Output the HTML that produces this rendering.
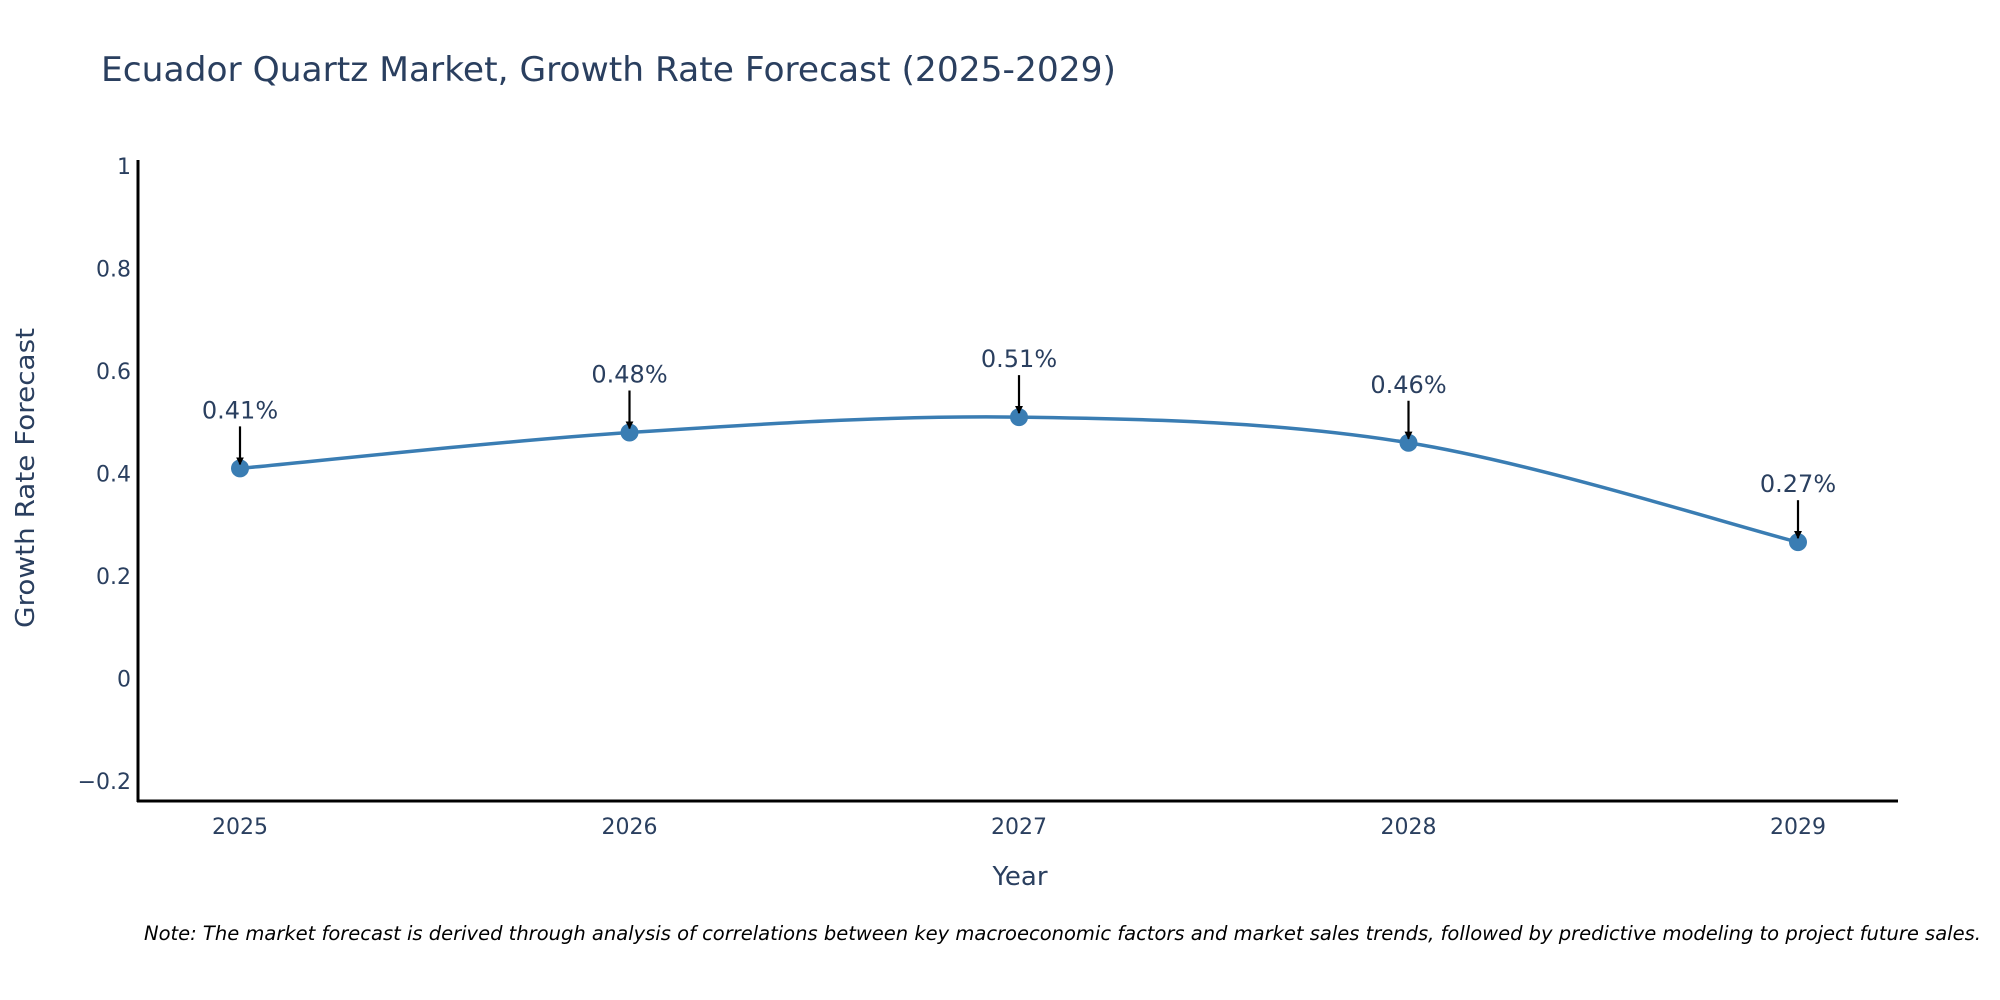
<!DOCTYPE html>
<html><head><meta charset="utf-8"><style>
html,body{margin:0;padding:0;background:#fff;width:2000px;height:1000px;overflow:hidden}
svg{display:block;font-family:"DejaVu Sans","Liberation Sans",sans-serif}
</style></head><body>
<svg id="chart" width="2000" height="1000" viewBox="0 0 2000 1000">
<defs><marker id="ah" viewBox="0 0 10 10" refX="9" refY="5" markerWidth="3.6" markerHeight="3.6" orient="auto"><path d="M0,0 L10,5 L0,10 z" fill="#000"/></marker></defs>
<text x="101" y="81" font-size="34" fill="#2a3f5f" textLength="1015" lengthAdjust="spacingAndGlyphs">Ecuador Quartz Market, Growth Rate Forecast (2025-2029)</text>
<g id="plot"></g>
<text x="1020" y="885" font-size="26" fill="#2a3f5f" text-anchor="middle">Year</text>
<text transform="translate(34,478) rotate(-90)" font-size="26" fill="#2a3f5f" text-anchor="middle" textLength="300" lengthAdjust="spacingAndGlyphs">Growth Rate Forecast</text>
<text x="144" y="940" font-size="19.5" font-style="italic" fill="#000">Note: The market forecast is derived through analysis of correlations between key macroeconomic factors and market sales trends, followed by predictive modeling to project future sales.</text>
</svg>
<script>
const years = ["2025","2026","2027","2028","2029"];
const values = [0.41, 0.48, 0.51, 0.46, 0.266];
const yTicks = [-0.2, 0, 0.2, 0.4, 0.6, 0.8, 1];
const yTickLabels = ["\u22120.2","0","0.2","0.4","0.6","0.8","1"];

const NS = "http://www.w3.org/2000/svg";
const g = document.getElementById("plot");
const X0 = 240, XSTEP = 389.5;
const yMin = -0.239, yMax = 1.0117, TOP = 160, BOT = 801;
const xs = i => X0 + i * XSTEP;
const ys = v => BOT - (v - yMin) / (yMax - yMin) * (BOT - TOP);
function mk(tag, attrs){ const e = document.createElementNS(NS, tag); for (const k in attrs) e.setAttribute(k, attrs[k]); g.appendChild(e); return e; }

const ya = mk("line",{x1:138,y1:TOP,x2:138,y2:BOT+1,stroke:"#000","stroke-width":3});


const xa = mk("line",{x1:137,y1:BOT,x2:1898,y2:BOT,stroke:"#000","stroke-width":3});



yTicks.forEach((t,i)=>{
  const e = mk("text",{x:131,y:ys(t)+8,"font-size":22,fill:"#2a3f5f","text-anchor":"end"});
  e.textContent = yTickLabels[i];
  
  
});
years.forEach((yr,i)=>{
  const e = mk("text",{x:xs(i),y:834,"font-size":22,fill:"#2a3f5f","text-anchor":"middle"});
  e.textContent = yr;
  
  
});

const pts = values.map((v,i)=>[xs(i), ys(v)]);
let d = "M" + pts[0][0] + "," + pts[0][1];
const k = 1/6;
for (let i=0;i<pts.length-1;i++){
  const p0 = pts[Math.max(i-1,0)], p1 = pts[i], p2 = pts[i+1], p3 = pts[Math.min(i+2,pts.length-1)];
  const c1 = [p1[0] + (p2[0]-p0[0])*k, p1[1] + (p2[1]-p0[1])*k];
  const c2 = [p2[0] - (p3[0]-p1[0])*k, p2[1] - (p3[1]-p1[1])*k];
  d += " C" + c1.join(",") + " " + c2.join(",") + " " + p2.join(",");
}
const line = mk("path",{d:d,fill:"none",stroke:"#3a7db3","stroke-width":3.5});



pts.forEach((p,i)=>{
  const c = mk("circle",{cx:p[0],cy:p[1],r:9,fill:"#3a7db3"});
  
  
  const a = mk("line",{x1:p[0],y1:p[1]-42,x2:p[0],y2:p[1]-4,stroke:"#000","stroke-width":2.2,"marker-end":"url(#ah)"});
  
  
  const t = mk("text",{x:p[0],y:p[1]-50,"font-size":24,fill:"#2a3f5f","text-anchor":"middle"});
  t.textContent = values[i].toFixed(2) + "%";
  
  
});
</script>
</body></html>
